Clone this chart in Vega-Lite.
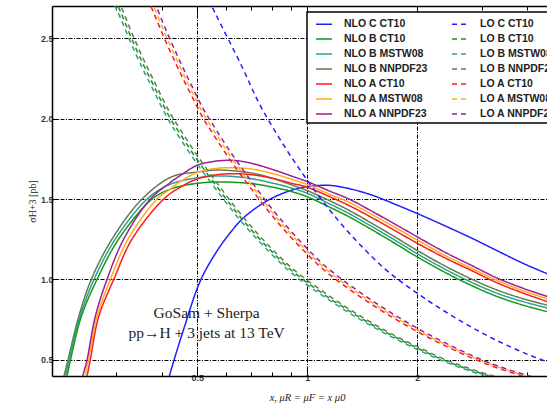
{
"$schema":"https://vega.github.io/schema/vega-lite/v6.json",
"width":495,"height":370,
"autosize":{"type":"none"},
"padding":{"left":52,"top":6,"right":0,"bottom":29},
"background":"white",
"config":{"view":{"stroke":null}},
"layer":[
{"data":{"values":[
{"s":"NLO C CT10","x":0.412,"y":0.33},{"s":"NLO C CT10","x":0.418,"y":0.39},{"s":"NLO C CT10","x":0.431,"y":0.494},{"s":"NLO C CT10","x":0.46,"y":0.70},{"s":"NLO C CT10","x":0.51,"y":0.994},{"s":"NLO C CT10","x":0.567,"y":1.18},{"s":"NLO C CT10","x":0.62,"y":1.30},{"s":"NLO C CT10","x":0.67,"y":1.385},{"s":"NLO C CT10","x":0.777,"y":1.49},{"s":"NLO C CT10","x":0.9,"y":1.553},{"s":"NLO C CT10","x":1.0,"y":1.577},{"s":"NLO C CT10","x":1.15,"y":1.585},{"s":"NLO C CT10","x":1.3,"y":1.565},{"s":"NLO C CT10","x":1.5,"y":1.525},{"s":"NLO C CT10","x":1.75,"y":1.465},{"s":"NLO C CT10","x":2.0,"y":1.41},{"s":"NLO C CT10","x":2.4,"y":1.33},{"s":"NLO C CT10","x":2.8,"y":1.26},{"s":"NLO C CT10","x":3.3,"y":1.18},{"s":"NLO C CT10","x":3.9,"y":1.10},{"s":"NLO C CT10","x":4.6,"y":1.03},

{"s":"NLO B NNPDF23","x":0.2119,"y":0.33},{"s":"NLO B NNPDF23","x":0.2157,"y":0.40},{"s":"NLO B NNPDF23","x":0.2212,"y":0.5},{"s":"NLO B NNPDF23","x":0.2367,"y":0.769},{"s":"NLO B NNPDF23","x":0.2562,"y":1.0},{"s":"NLO B NNPDF23","x":0.292,"y":1.251},{"s":"NLO B NNPDF23","x":0.3528,"y":1.5},{"s":"NLO B NNPDF23","x":0.426,"y":1.639},{"s":"NLO B NNPDF23","x":0.5,"y":1.668},{"s":"NLO B NNPDF23","x":0.56,"y":1.68},{"s":"NLO B NNPDF23","x":0.63,"y":1.675},{"s":"NLO B NNPDF23","x":0.71,"y":1.66},{"s":"NLO B NNPDF23","x":0.8,"y":1.63},{"s":"NLO B NNPDF23","x":0.9,"y":1.59},{"s":"NLO B NNPDF23","x":1.0,"y":1.552},{"s":"NLO B NNPDF23","x":1.15,"y":1.49},{"s":"NLO B NNPDF23","x":1.3,"y":1.43},{"s":"NLO B NNPDF23","x":1.5,"y":1.35},{"s":"NLO B NNPDF23","x":1.75,"y":1.26},{"s":"NLO B NNPDF23","x":2.0,"y":1.18},{"s":"NLO B NNPDF23","x":2.4,"y":1.08},{"s":"NLO B NNPDF23","x":2.8,"y":1.005},{"s":"NLO B NNPDF23","x":3.3,"y":0.935},{"s":"NLO B NNPDF23","x":3.9,"y":0.88},{"s":"NLO B NNPDF23","x":4.6,"y":0.8375},

{"s":"NLO B MSTW08","x":0.2140,"y":0.33},{"s":"NLO B MSTW08","x":0.2178,"y":0.40},{"s":"NLO B MSTW08","x":0.2226,"y":0.5},{"s":"NLO B MSTW08","x":0.2386,"y":0.769},{"s":"NLO B MSTW08","x":0.2606,"y":1.0},{"s":"NLO B MSTW08","x":0.2981,"y":1.251},{"s":"NLO B MSTW08","x":0.364,"y":1.5},{"s":"NLO B MSTW08","x":0.41,"y":1.58},{"s":"NLO B MSTW08","x":0.45,"y":1.612},{"s":"NLO B MSTW08","x":0.5,"y":1.632},{"s":"NLO B MSTW08","x":0.56,"y":1.643},{"s":"NLO B MSTW08","x":0.63,"y":1.64},{"s":"NLO B MSTW08","x":0.71,"y":1.625},{"s":"NLO B MSTW08","x":0.8,"y":1.60},{"s":"NLO B MSTW08","x":0.9,"y":1.57},{"s":"NLO B MSTW08","x":1.0,"y":1.536},{"s":"NLO B MSTW08","x":1.15,"y":1.47},{"s":"NLO B MSTW08","x":1.3,"y":1.41},{"s":"NLO B MSTW08","x":1.5,"y":1.33},{"s":"NLO B MSTW08","x":1.75,"y":1.24},{"s":"NLO B MSTW08","x":2.0,"y":1.16},{"s":"NLO B MSTW08","x":2.4,"y":1.06},{"s":"NLO B MSTW08","x":2.8,"y":0.985},{"s":"NLO B MSTW08","x":3.3,"y":0.915},{"s":"NLO B MSTW08","x":3.9,"y":0.862},{"s":"NLO B MSTW08","x":4.6,"y":0.82},

{"s":"NLO B CT10","x":0.2160,"y":0.33},{"s":"NLO B CT10","x":0.2198,"y":0.40},{"s":"NLO B CT10","x":0.2247,"y":0.5},{"s":"NLO B CT10","x":0.2405,"y":0.769},{"s":"NLO B CT10","x":0.2656,"y":1.0},{"s":"NLO B CT10","x":0.3044,"y":1.251},{"s":"NLO B CT10","x":0.3757,"y":1.5},{"s":"NLO B CT10","x":0.42,"y":1.56},{"s":"NLO B CT10","x":0.45,"y":1.58},{"s":"NLO B CT10","x":0.5,"y":1.598},{"s":"NLO B CT10","x":0.56,"y":1.606},{"s":"NLO B CT10","x":0.63,"y":1.604},{"s":"NLO B CT10","x":0.71,"y":1.595},{"s":"NLO B CT10","x":0.8,"y":1.575},{"s":"NLO B CT10","x":0.9,"y":1.548},{"s":"NLO B CT10","x":1.0,"y":1.514},{"s":"NLO B CT10","x":1.15,"y":1.45},{"s":"NLO B CT10","x":1.3,"y":1.39},{"s":"NLO B CT10","x":1.5,"y":1.31},{"s":"NLO B CT10","x":1.75,"y":1.22},{"s":"NLO B CT10","x":2.0,"y":1.14},{"s":"NLO B CT10","x":2.4,"y":1.04},{"s":"NLO B CT10","x":2.8,"y":0.965},{"s":"NLO B CT10","x":3.3,"y":0.895},{"s":"NLO B CT10","x":3.9,"y":0.84},{"s":"NLO B CT10","x":4.6,"y":0.796},

{"s":"NLO A CT10","x":0.2447,"y":0.33},{"s":"NLO A CT10","x":0.2494,"y":0.40},{"s":"NLO A CT10","x":0.2546,"y":0.5},{"s":"NLO A CT10","x":0.2684,"y":0.769},{"s":"NLO A CT10","x":0.2951,"y":1.0},{"s":"NLO A CT10","x":0.3312,"y":1.251},{"s":"NLO A CT10","x":0.4044,"y":1.5},{"s":"NLO A CT10","x":0.45,"y":1.575},{"s":"NLO A CT10","x":0.5,"y":1.625},{"s":"NLO A CT10","x":0.56,"y":1.65},{"s":"NLO A CT10","x":0.63,"y":1.658},{"s":"NLO A CT10","x":0.71,"y":1.65},{"s":"NLO A CT10","x":0.8,"y":1.63},{"s":"NLO A CT10","x":0.9,"y":1.60},{"s":"NLO A CT10","x":1.0,"y":1.573},{"s":"NLO A CT10","x":1.15,"y":1.515},{"s":"NLO A CT10","x":1.3,"y":1.46},{"s":"NLO A CT10","x":1.5,"y":1.385},{"s":"NLO A CT10","x":1.75,"y":1.30},{"s":"NLO A CT10","x":2.0,"y":1.225},{"s":"NLO A CT10","x":2.4,"y":1.13},{"s":"NLO A CT10","x":2.8,"y":1.058},{"s":"NLO A CT10","x":3.3,"y":0.98},{"s":"NLO A CT10","x":3.9,"y":0.915},{"s":"NLO A CT10","x":4.6,"y":0.858},

{"s":"NLO A MSTW08","x":0.2416,"y":0.33},{"s":"NLO A MSTW08","x":0.2462,"y":0.40},{"s":"NLO A MSTW08","x":0.2517,"y":0.5},{"s":"NLO A MSTW08","x":0.2656,"y":0.769},{"s":"NLO A MSTW08","x":0.2889,"y":1.0},{"s":"NLO A MSTW08","x":0.3229,"y":1.251},{"s":"NLO A MSTW08","x":0.3878,"y":1.5},{"s":"NLO A MSTW08","x":0.42,"y":1.56},{"s":"NLO A MSTW08","x":0.45,"y":1.61},{"s":"NLO A MSTW08","x":0.5,"y":1.665},{"s":"NLO A MSTW08","x":0.56,"y":1.69},{"s":"NLO A MSTW08","x":0.63,"y":1.695},{"s":"NLO A MSTW08","x":0.71,"y":1.685},{"s":"NLO A MSTW08","x":0.8,"y":1.66},{"s":"NLO A MSTW08","x":0.9,"y":1.625},{"s":"NLO A MSTW08","x":1.0,"y":1.59},{"s":"NLO A MSTW08","x":1.15,"y":1.53},{"s":"NLO A MSTW08","x":1.3,"y":1.48},{"s":"NLO A MSTW08","x":1.5,"y":1.405},{"s":"NLO A MSTW08","x":1.75,"y":1.32},{"s":"NLO A MSTW08","x":2.0,"y":1.245},{"s":"NLO A MSTW08","x":2.4,"y":1.145},{"s":"NLO A MSTW08","x":2.8,"y":1.072},{"s":"NLO A MSTW08","x":3.3,"y":0.995},{"s":"NLO A MSTW08","x":3.9,"y":0.93},{"s":"NLO A MSTW08","x":4.6,"y":0.875},

{"s":"NLO A NNPDF23","x":0.2381,"y":0.33},{"s":"NLO A NNPDF23","x":0.2427,"y":0.40},{"s":"NLO A NNPDF23","x":0.2494,"y":0.5},{"s":"NLO A NNPDF23","x":0.2627,"y":0.769},{"s":"NLO A NNPDF23","x":0.2829,"y":1.0},{"s":"NLO A NNPDF23","x":0.3143,"y":1.251},{"s":"NLO A NNPDF23","x":0.3716,"y":1.5},{"s":"NLO A NNPDF23","x":0.42,"y":1.60},{"s":"NLO A NNPDF23","x":0.45,"y":1.648},{"s":"NLO A NNPDF23","x":0.5,"y":1.71},{"s":"NLO A NNPDF23","x":0.56,"y":1.735},{"s":"NLO A NNPDF23","x":0.63,"y":1.74},{"s":"NLO A NNPDF23","x":0.71,"y":1.72},{"s":"NLO A NNPDF23","x":0.8,"y":1.685},{"s":"NLO A NNPDF23","x":0.9,"y":1.645},{"s":"NLO A NNPDF23","x":1.0,"y":1.608},{"s":"NLO A NNPDF23","x":1.15,"y":1.55},{"s":"NLO A NNPDF23","x":1.3,"y":1.50},{"s":"NLO A NNPDF23","x":1.5,"y":1.425},{"s":"NLO A NNPDF23","x":1.75,"y":1.34},{"s":"NLO A NNPDF23","x":2.0,"y":1.265},{"s":"NLO A NNPDF23","x":2.4,"y":1.165},{"s":"NLO A NNPDF23","x":2.8,"y":1.09},{"s":"NLO A NNPDF23","x":3.3,"y":1.01},{"s":"NLO A NNPDF23","x":3.9,"y":0.945},{"s":"NLO A NNPDF23","x":4.6,"y":0.89},

{"s":"LO C CT10","x":0.524,"y":2.79},{"s":"LO C CT10","x":0.561,"y":2.65},{"s":"LO C CT10","x":0.660,"y":2.33},{"s":"LO C CT10","x":0.736,"y":2.10},{"s":"LO C CT10","x":0.822,"y":1.91},{"s":"LO C CT10","x":0.917,"y":1.74},{"s":"LO C CT10","x":1.023,"y":1.585},{"s":"LO C CT10","x":1.148,"y":1.435},{"s":"LO C CT10","x":1.289,"y":1.30},{"s":"LO C CT10","x":1.445,"y":1.18},{"s":"LO C CT10","x":1.622,"y":1.07},{"s":"LO C CT10","x":1.82,"y":0.98},{"s":"LO C CT10","x":2.042,"y":0.90},{"s":"LO C CT10","x":2.291,"y":0.825},{"s":"LO C CT10","x":2.572,"y":0.755},{"s":"LO C CT10","x":2.885,"y":0.69},{"s":"LO C CT10","x":3.236,"y":0.63},{"s":"LO C CT10","x":3.631,"y":0.577},{"s":"LO C CT10","x":4.075,"y":0.528},{"s":"LO C CT10","x":4.572,"y":0.485},

{"s":"LO B CT10","x":0.29,"y":2.80},{"s":"LO B CT10","x":0.31,"y":2.65},{"s":"LO B CT10","x":0.33,"y":2.50},{"s":"LO B CT10","x":0.355,"y":2.34},{"s":"LO B CT10","x":0.375,"y":2.23},{"s":"LO B CT10","x":0.398,"y":2.11},{"s":"LO B CT10","x":0.422,"y":2.0},{"s":"LO B CT10","x":0.447,"y":1.91},{"s":"LO B CT10","x":0.501,"y":1.74},{"s":"LO B CT10","x":0.562,"y":1.585},{"s":"LO B CT10","x":0.631,"y":1.435},{"s":"LO B CT10","x":0.708,"y":1.30},{"s":"LO B CT10","x":0.794,"y":1.18},{"s":"LO B CT10","x":0.891,"y":1.07},{"s":"LO B CT10","x":1.0,"y":0.98},{"s":"LO B CT10","x":1.122,"y":0.90},{"s":"LO B CT10","x":1.259,"y":0.825},{"s":"LO B CT10","x":1.413,"y":0.755},{"s":"LO B CT10","x":1.585,"y":0.69},{"s":"LO B CT10","x":1.778,"y":0.63},{"s":"LO B CT10","x":1.995,"y":0.575},{"s":"LO B CT10","x":2.239,"y":0.522},{"s":"LO B CT10","x":2.512,"y":0.475},{"s":"LO B CT10","x":2.818,"y":0.435},{"s":"LO B CT10","x":3.162,"y":0.40},{"s":"LO B CT10","x":3.55,"y":0.37},

{"s":"LO B MSTW08","x":0.29,"y":2.758},{"s":"LO B MSTW08","x":0.31,"y":2.61},{"s":"LO B MSTW08","x":0.33,"y":2.463},{"s":"LO B MSTW08","x":0.355,"y":2.305},{"s":"LO B MSTW08","x":0.375,"y":2.197},{"s":"LO B MSTW08","x":0.398,"y":2.078},{"s":"LO B MSTW08","x":0.422,"y":1.97},{"s":"LO B MSTW08","x":0.447,"y":1.881},{"s":"LO B MSTW08","x":0.501,"y":1.714},{"s":"LO B MSTW08","x":0.562,"y":1.561},{"s":"LO B MSTW08","x":0.631,"y":1.413},{"s":"LO B MSTW08","x":0.708,"y":1.281},{"s":"LO B MSTW08","x":0.794,"y":1.162},{"s":"LO B MSTW08","x":0.891,"y":1.054},{"s":"LO B MSTW08","x":1.0,"y":0.965},{"s":"LO B MSTW08","x":1.122,"y":0.887},{"s":"LO B MSTW08","x":1.259,"y":0.813},{"s":"LO B MSTW08","x":1.413,"y":0.744},{"s":"LO B MSTW08","x":1.585,"y":0.68},{"s":"LO B MSTW08","x":1.778,"y":0.621},{"s":"LO B MSTW08","x":1.995,"y":0.566},{"s":"LO B MSTW08","x":2.239,"y":0.514},{"s":"LO B MSTW08","x":2.512,"y":0.468},{"s":"LO B MSTW08","x":2.818,"y":0.428},{"s":"LO B MSTW08","x":3.162,"y":0.394},{"s":"LO B MSTW08","x":3.55,"y":0.364},

{"s":"LO B NNPDF23","x":0.29,"y":2.842},{"s":"LO B NNPDF23","x":0.31,"y":2.69},{"s":"LO B NNPDF23","x":0.33,"y":2.538},{"s":"LO B NNPDF23","x":0.355,"y":2.375},{"s":"LO B NNPDF23","x":0.375,"y":2.263},{"s":"LO B NNPDF23","x":0.398,"y":2.142},{"s":"LO B NNPDF23","x":0.422,"y":2.03},{"s":"LO B NNPDF23","x":0.447,"y":1.939},{"s":"LO B NNPDF23","x":0.501,"y":1.766},{"s":"LO B NNPDF23","x":0.562,"y":1.609},{"s":"LO B NNPDF23","x":0.631,"y":1.457},{"s":"LO B NNPDF23","x":0.708,"y":1.32},{"s":"LO B NNPDF23","x":0.794,"y":1.198},{"s":"LO B NNPDF23","x":0.891,"y":1.086},{"s":"LO B NNPDF23","x":1.0,"y":0.995},{"s":"LO B NNPDF23","x":1.122,"y":0.914},{"s":"LO B NNPDF23","x":1.259,"y":0.837},{"s":"LO B NNPDF23","x":1.413,"y":0.766},{"s":"LO B NNPDF23","x":1.585,"y":0.70},{"s":"LO B NNPDF23","x":1.778,"y":0.639},{"s":"LO B NNPDF23","x":1.995,"y":0.584},{"s":"LO B NNPDF23","x":2.239,"y":0.53},{"s":"LO B NNPDF23","x":2.512,"y":0.482},{"s":"LO B NNPDF23","x":2.818,"y":0.442},{"s":"LO B NNPDF23","x":3.162,"y":0.406},{"s":"LO B NNPDF23","x":3.55,"y":0.376},

{"s":"LO A CT10","x":0.357,"y":2.80},{"s":"LO A CT10","x":0.381,"y":2.65},{"s":"LO A CT10","x":0.406,"y":2.50},{"s":"LO A CT10","x":0.437,"y":2.34},{"s":"LO A CT10","x":0.461,"y":2.23},{"s":"LO A CT10","x":0.49,"y":2.11},{"s":"LO A CT10","x":0.519,"y":2.0},{"s":"LO A CT10","x":0.55,"y":1.91},{"s":"LO A CT10","x":0.616,"y":1.74},{"s":"LO A CT10","x":0.691,"y":1.585},{"s":"LO A CT10","x":0.776,"y":1.435},{"s":"LO A CT10","x":0.871,"y":1.30},{"s":"LO A CT10","x":0.977,"y":1.18},{"s":"LO A CT10","x":1.096,"y":1.07},{"s":"LO A CT10","x":1.23,"y":0.98},{"s":"LO A CT10","x":1.38,"y":0.90},{"s":"LO A CT10","x":1.549,"y":0.825},{"s":"LO A CT10","x":1.738,"y":0.755},{"s":"LO A CT10","x":1.95,"y":0.69},{"s":"LO A CT10","x":2.187,"y":0.63},{"s":"LO A CT10","x":2.454,"y":0.575},{"s":"LO A CT10","x":2.754,"y":0.522},{"s":"LO A CT10","x":3.09,"y":0.475},{"s":"LO A CT10","x":3.466,"y":0.435},{"s":"LO A CT10","x":3.889,"y":0.40},{"s":"LO A CT10","x":4.367,"y":0.37},

{"s":"LO A MSTW08","x":0.357,"y":2.842},{"s":"LO A MSTW08","x":0.381,"y":2.69},{"s":"LO A MSTW08","x":0.406,"y":2.538},{"s":"LO A MSTW08","x":0.437,"y":2.375},{"s":"LO A MSTW08","x":0.461,"y":2.263},{"s":"LO A MSTW08","x":0.49,"y":2.142},{"s":"LO A MSTW08","x":0.519,"y":2.03},{"s":"LO A MSTW08","x":0.55,"y":1.939},{"s":"LO A MSTW08","x":0.616,"y":1.766},{"s":"LO A MSTW08","x":0.691,"y":1.609},{"s":"LO A MSTW08","x":0.776,"y":1.457},{"s":"LO A MSTW08","x":0.871,"y":1.32},{"s":"LO A MSTW08","x":0.977,"y":1.198},{"s":"LO A MSTW08","x":1.096,"y":1.086},{"s":"LO A MSTW08","x":1.23,"y":0.995},{"s":"LO A MSTW08","x":1.38,"y":0.914},{"s":"LO A MSTW08","x":1.549,"y":0.837},{"s":"LO A MSTW08","x":1.738,"y":0.766},{"s":"LO A MSTW08","x":1.95,"y":0.70},{"s":"LO A MSTW08","x":2.187,"y":0.639},{"s":"LO A MSTW08","x":2.454,"y":0.584},{"s":"LO A MSTW08","x":2.754,"y":0.53},{"s":"LO A MSTW08","x":3.09,"y":0.482},{"s":"LO A MSTW08","x":3.466,"y":0.442},{"s":"LO A MSTW08","x":3.889,"y":0.406},{"s":"LO A MSTW08","x":4.367,"y":0.376},

{"s":"LO A NNPDF23","x":0.357,"y":2.884},{"s":"LO A NNPDF23","x":0.381,"y":2.73},{"s":"LO A NNPDF23","x":0.406,"y":2.575},{"s":"LO A NNPDF23","x":0.437,"y":2.41},{"s":"LO A NNPDF23","x":0.461,"y":2.297},{"s":"LO A NNPDF23","x":0.49,"y":2.173},{"s":"LO A NNPDF23","x":0.519,"y":2.06},{"s":"LO A NNPDF23","x":0.55,"y":1.967},{"s":"LO A NNPDF23","x":0.616,"y":1.792},{"s":"LO A NNPDF23","x":0.691,"y":1.633},{"s":"LO A NNPDF23","x":0.776,"y":1.478},{"s":"LO A NNPDF23","x":0.871,"y":1.339},{"s":"LO A NNPDF23","x":0.977,"y":1.215},{"s":"LO A NNPDF23","x":1.096,"y":1.102},{"s":"LO A NNPDF23","x":1.23,"y":1.009},{"s":"LO A NNPDF23","x":1.38,"y":0.927},{"s":"LO A NNPDF23","x":1.549,"y":0.85},{"s":"LO A NNPDF23","x":1.738,"y":0.778},{"s":"LO A NNPDF23","x":1.95,"y":0.711},{"s":"LO A NNPDF23","x":2.187,"y":0.649},{"s":"LO A NNPDF23","x":2.454,"y":0.592},{"s":"LO A NNPDF23","x":2.754,"y":0.538},{"s":"LO A NNPDF23","x":3.09,"y":0.489},{"s":"LO A NNPDF23","x":3.466,"y":0.448},{"s":"LO A NNPDF23","x":3.889,"y":0.412},{"s":"LO A NNPDF23","x":4.367,"y":0.381}
]},
"mark":{"type":"line","clip":true,"interpolate":"catmull-rom","strokeWidth":1.5},
"encoding":{
"x":{"field":"x","type":"quantitative","scale":{"type":"log","domain":[0.2,4.53],"nice":false},
 "axis":{"orient":"bottom","values":[0.3,0.4,0.5,0.6,0.7,0.8,0.9,1,2,3,4],"format":"~g","labelOverlap":false,
 "labelExpr":"(datum.value==0.5||datum.value==1||datum.value==2)?datum.label:''",
 "grid":true,"gridColor":"black","gridDash":[4,1.5,1,1.5],"gridWidth":1,
 "gridOpacity":{"condition":{"test":"datum.value==0.5||datum.value==1||datum.value==2","value":1},"value":0},
 "tickSize":{"condition":{"test":"datum.value==0.5||datum.value==1||datum.value==2","value":-8},"value":-4},
 "tickColor":"black","tickWidth":1,"domainColor":"black","domainWidth":1.5,
 "labelFont":"Liberation Sans","labelFontSize":9,"labelFontWeight":"bold","labelColor":"#3a3a3a","labelPadding":5,
 "title":"x, μR = μF = x μ0","titleFont":"Liberation Serif","titleFontStyle":"italic","titleFontSize":10.5,"titleFontWeight":"normal","titleColor":"#222",
 "titleX":255,"titleY":16,"titleBaseline":"top","titleAlign":"center"}},
"y":{"field":"y","type":"quantitative","scale":{"domain":[0.4,2.7],"nice":false,"zero":false},
 "axis":{"values":[0.5,1,1.5,2,2.5],"format":".1f","grid":true,"gridColor":"black","gridDash":[4,1.5,1,1.5],"gridWidth":1,
 "tickSize":-6,"tickColor":"black","domainColor":"black","domainWidth":1.5,
 "labelFont":"Liberation Sans","labelFontSize":9,"labelFontWeight":"bold","labelColor":"#3a3a3a","labelPadding":5,
 "title":"σH+3 [pb]","titleFont":"Liberation Serif","titleFontSize":10,"titleFontWeight":"normal","titleColor":"#222","titlePadding":3,"titleY":195}},
"color":{"field":"s","type":"nominal",
 "scale":{"domain":["NLO C CT10","NLO B CT10","NLO B MSTW08","NLO B NNPDF23","NLO A CT10","NLO A MSTW08","NLO A NNPDF23","LO C CT10","LO B CT10","LO B MSTW08","LO B NNPDF23","LO A CT10","LO A MSTW08","LO A NNPDF23"],
 "range":["#2020ff","#139a13","#2e9e96","#667a4e","#ff1a1a","#ffad1f","#9b1f9b","#2020ff","#139a13","#2e9e96","#667a4e","#ff1a1a","#ffad1f","#9b1f9b"]},
 "legend":{"orient":"none","legendX":255,"legendY":6,"columns":2,"title":null,"symbolType":"stroke","symbolSize":256,"symbolStrokeWidth":1.5,
 "labelFont":"Liberation Sans","labelFontSize":10.5,"labelFontWeight":"bold","labelColor":"#222","labelOffset":11,"labelLimit":200,
 "padding":3,"symbolOffset":5,"rowPadding":-1.5,"columnPadding":18,"strokeColor":"black","fillColor":"white","gridAlign":"each",
 "encode":{"legend":{"update":{"strokeWidth":{"value":1.5}}}}}},
"strokeDash":{"field":"s","type":"nominal",
 "scale":{"domain":["NLO C CT10","NLO B CT10","NLO B MSTW08","NLO B NNPDF23","NLO A CT10","NLO A MSTW08","NLO A NNPDF23","LO C CT10","LO B CT10","LO B MSTW08","LO B NNPDF23","LO A CT10","LO A MSTW08","LO A NNPDF23"],
 "range":[[1,0],[1,0],[1,0],[1,0],[1,0],[1,0],[1,0],[5,4],[5,4],[5,4],[5,4],[5,4],[5,4],[5,4]]},
 "legend":{"orient":"none","legendX":255,"legendY":6,"columns":2,"title":null,"symbolType":"stroke","symbolSize":256,"symbolStrokeWidth":1.5,
 "labelFont":"Liberation Sans","labelFontSize":10.5,"labelFontWeight":"bold","labelColor":"#222","labelOffset":11,"labelLimit":200,
 "padding":3,"symbolOffset":5,"rowPadding":-1.5,"columnPadding":18,"strokeColor":"black","fillColor":"white","gridAlign":"each",
 "encode":{"legend":{"update":{"strokeWidth":{"value":1.5}}}}}}
}},
{"data":{"values":[{"x":0.53,"y":0.759,"t":"GoSam + Sherpa"},{"x":0.53,"y":0.634,"t":"pp→H + 3 jets at 13 TeV"}]},
"mark":{"type":"text","font":"Liberation Serif","fontSize":15.5,"baseline":"alphabetic","align":"center","color":"#222"},
"encoding":{
"x":{"field":"x","type":"quantitative","axis":{"orient":"top","values":[0.3,0.4,0.5,0.6,0.7,0.8,0.9,1,2,3,4],"labels":false,"grid":false,"title":null,
 "tickSize":{"condition":{"test":"datum.value==0.5||datum.value==1||datum.value==2","value":-8},"value":-4},"tickColor":"black","domainColor":"black","domainWidth":1.5}},
"y":{"field":"y","type":"quantitative"},
"text":{"field":"t"}}}
],
"resolve":{"axis":{"x":"independent"}}
}
